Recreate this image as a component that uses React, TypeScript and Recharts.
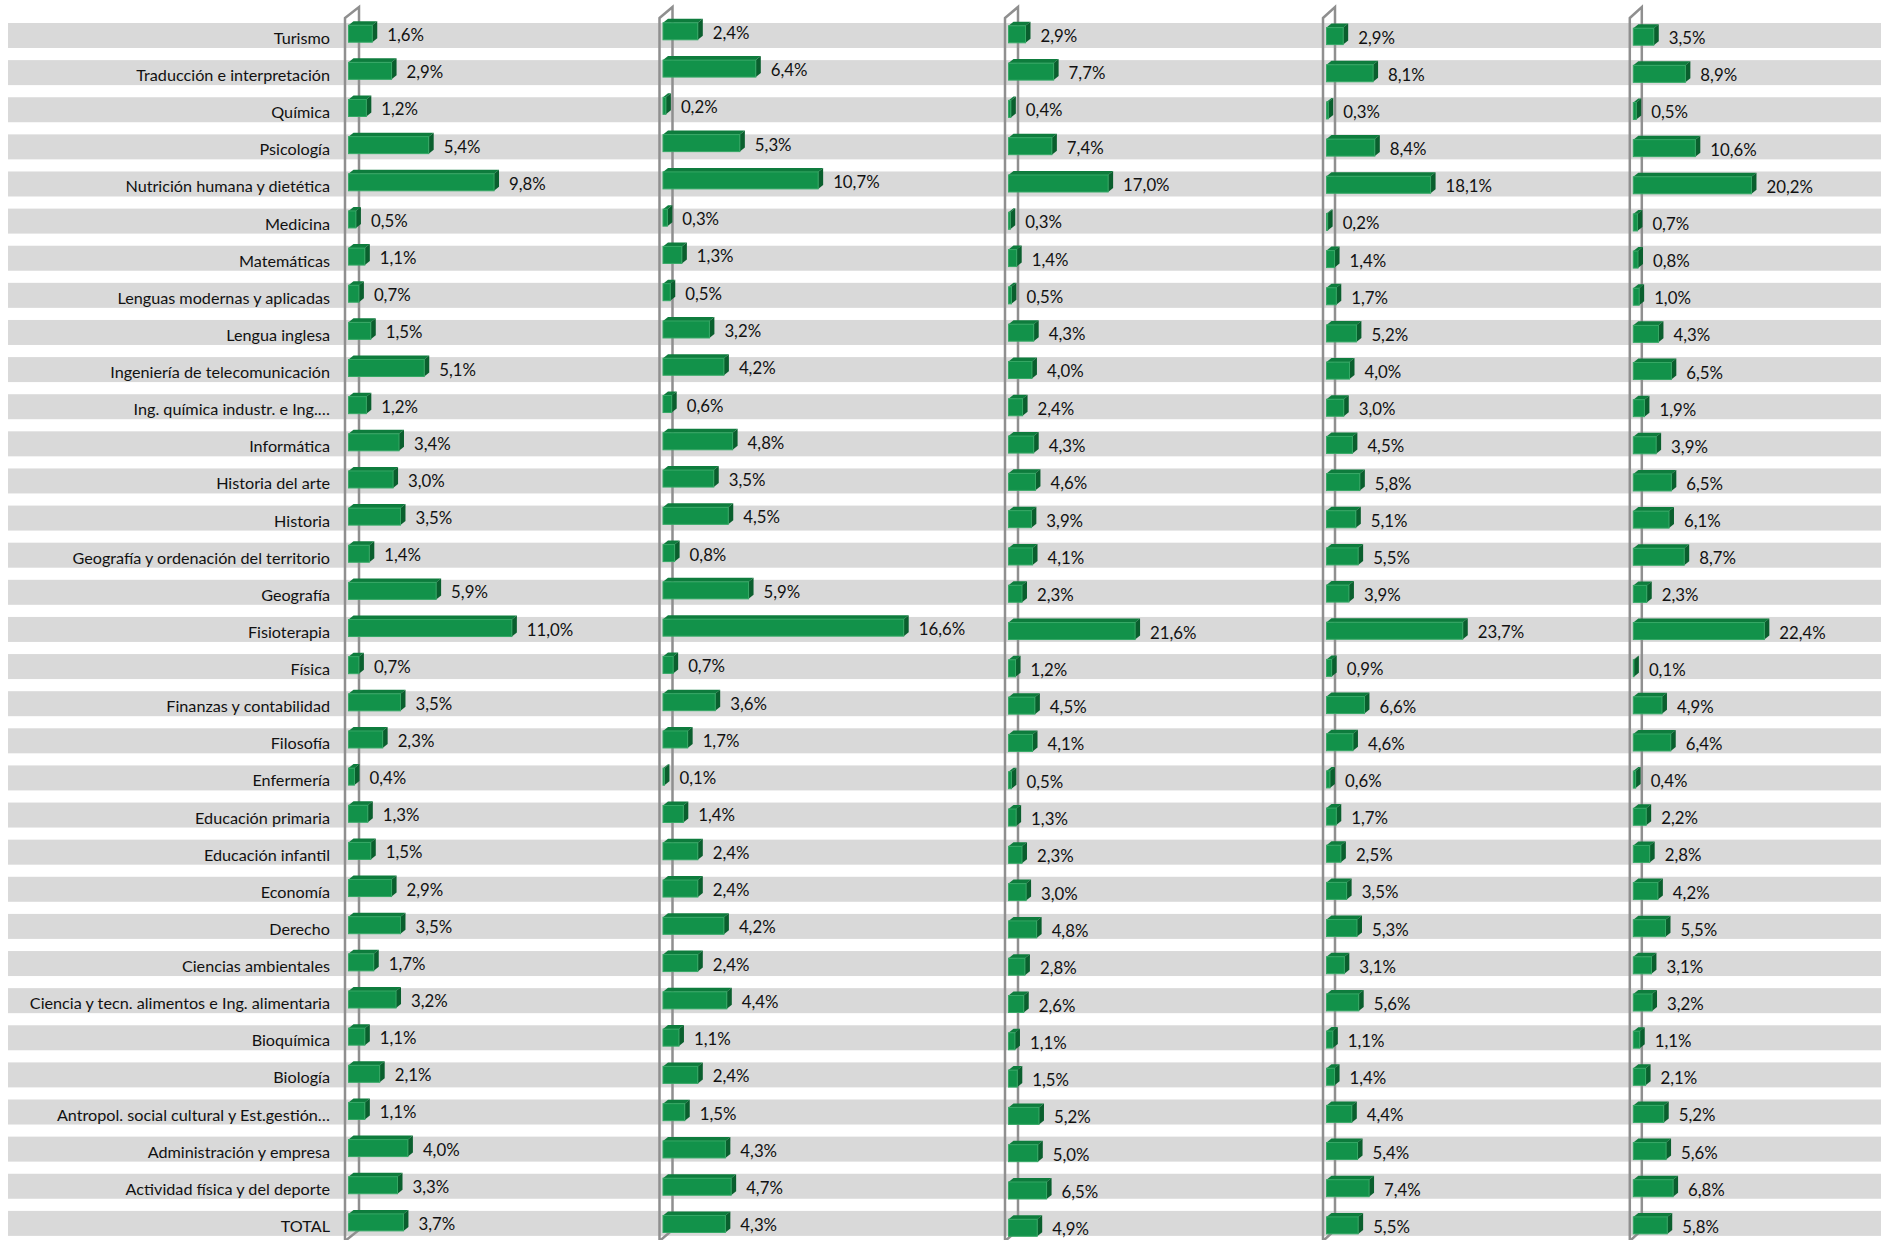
import React from "react";
import { BarChart, Bar, XAxis, YAxis, LabelList, ReferenceLine } from "recharts";

// categorías de arriba abajo
const categories = [
  "Turismo",
  "Traducción e interpretación",
  "Química",
  "Psicología",
  "Nutrición humana y dietética",
  "Medicina",
  "Matemáticas",
  "Lenguas modernas y aplicadas",
  "Lengua inglesa",
  "Ingeniería de telecomunicación",
  "Ing. química industr. e Ing.…",
  "Informática",
  "Historia del arte",
  "Historia",
  "Geografía y ordenación del territorio",
  "Geografía",
  "Fisioterapia",
  "Física",
  "Finanzas y contabilidad",
  "Filosofía",
  "Enfermería",
  "Educación primaria",
  "Educación infantil",
  "Economía",
  "Derecho",
  "Ciencias ambientales",
  "Ciencia y tecn. alimentos e Ing. alimentaria",
  "Bioquímica",
  "Biología",
  "Antropol. social cultural y Est.gestión…",
  "Administración y empresa",
  "Actividad física y del deporte",
  "TOTAL",
];

const serie1 = [1.6, 2.9, 1.2, 5.4, 9.8, 0.5, 1.1, 0.7, 1.5, 5.1, 1.2, 3.4, 3.0, 3.5, 1.4, 5.9, 11.0, 0.7, 3.5, 2.3, 0.4, 1.3, 1.5, 2.9, 3.5, 1.7, 3.2, 1.1, 2.1, 1.1, 4.0, 3.3, 3.7];
const serie2 = [2.4, 6.4, 0.2, 5.3, 10.7, 0.3, 1.3, 0.5, 3.2, 4.2, 0.6, 4.8, 3.5, 4.5, 0.8, 5.9, 16.6, 0.7, 3.6, 1.7, 0.1, 1.4, 2.4, 2.4, 4.2, 2.4, 4.4, 1.1, 2.4, 1.5, 4.3, 4.7, 4.3];
const serie3 = [2.9, 7.7, 0.4, 7.4, 17.0, 0.3, 1.4, 0.5, 4.3, 4.0, 2.4, 4.3, 4.6, 3.9, 4.1, 2.3, 21.6, 1.2, 4.5, 4.1, 0.5, 1.3, 2.3, 3.0, 4.8, 2.8, 2.6, 1.1, 1.5, 5.2, 5.0, 6.5, 4.9];
const serie4 = [2.9, 8.1, 0.3, 8.4, 18.1, 0.2, 1.4, 1.7, 5.2, 4.0, 3.0, 4.5, 5.8, 5.1, 5.5, 3.9, 23.7, 0.9, 6.6, 4.6, 0.6, 1.7, 2.5, 3.5, 5.3, 3.1, 5.6, 1.1, 1.4, 4.4, 5.4, 7.4, 5.5];
const serie5 = [3.5, 8.9, 0.5, 10.6, 20.2, 0.7, 0.8, 1.0, 4.3, 6.5, 1.9, 3.9, 6.5, 6.1, 8.7, 2.3, 22.4, 0.1, 4.9, 6.4, 0.4, 2.2, 2.8, 4.2, 5.5, 3.1, 3.2, 1.1, 2.1, 5.2, 5.6, 6.8, 5.8];

const rows = categories.map((name, i) => ({
  name,
  p1: serie1[i],
  p2: serie2[i],
  p3: serie3[i],
  p4: serie4[i],
  p5: serie5[i],
}));

// layout
const W = 1881;
const CH = 1242;
const TOP = 17;
const LEFT = 8;
const MARGIN = { top: TOP, right: 0, bottom: 0, left: LEFT };

// zero = x of value 0, scale = px per %, off = bar shift first/last row (3D perspective)
const panels = [
  { key: "p1", zero: 348.5, scale: 14.85, depth: 14, offTop: -3.8, offBot: -3 },
  { key: "p2", zero: 663, scale: 14.5, depth: 13, offTop: -6.2, offBot: -1.4 },
  { key: "p3", zero: 1008.5, scale: 5.86, depth: 13, offTop: -3.2, offBot: 2.4 },
  { key: "p4", zero: 1326.5, scale: 5.75, depth: 12, offTop: -1.4, offBot: 0 },
  { key: "p5", zero: 1633.3, scale: 5.85, depth: 12, offTop: -0.8, offBot: 0 },
];

const FONT = "Lato, 'Open Sans', sans-serif";
const GREEN = "#12924a";
const GREEN_TOP = "#0e7c3d";
const GREEN_SIDE = "#0a5f2e";
const WALL = "#8f8f8f";

const fmt = (v: number) => `${v.toFixed(1).replace(".", ",")}%`;

const rowOffset = (p: any, index: number) =>
  p.offTop + ((p.offBot - p.offTop) * index) / (categories.length - 1);

function makeBarShape(panel: any) {
  return (props: any) => {
    const { x, y, width, height, index } = props;
    const w = Math.max(width, 0);
    const t = y + rowOffset(panel, index);
    const dx = 5;
    const dy = 4;
    return (
      <g>
        <polygon
          points={`${x},${t + dy} ${x + dx},${t} ${x + w + dx},${t} ${x + w},${t + dy}`}
          fill={GREEN_TOP}
        />
        <polygon
          points={`${x + w},${t + dy} ${x + w + dx},${t} ${x + w + dx},${t + height - dy} ${x + w},${t + height}`}
          fill={GREEN_SIDE}
        />
        <rect x={x} y={t + dy} width={w} height={height - dy} fill={GREEN} stroke="#35a865" strokeWidth={1} />
      </g>
    );
  };
}

const box = (props: any) => {
  const vb = props.viewBox || {};
  return {
    x: props.x ?? vb.x,
    y: props.y ?? vb.y,
    width: props.width ?? vb.width,
    height: props.height ?? vb.height,
  };
};

function makeLabel(panel: any) {
  return (props: any) => {
    const { x, y, width, height } = box(props);
    const off = rowOffset(panel, props.index ?? 0);
    return (
      <text
        x={x + width + 15}
        y={y + height / 2 + off + 3}
        dominantBaseline="central"
        fontFamily={FONT}
        fontSize={16.8}
        fill="#111"
      >
        {fmt(Number(props.value))}
      </text>
    );
  };
}

function makeWall(panel: any) {
  return (props: any) => {
    const fx = props.x1 - 3.5;
    const bx = fx + panel.depth;
    return (
      <polygon
        points={`${fx},18 ${bx},7 ${bx},1230 ${fx},1241`}
        fill="none"
        stroke={WALL}
        strokeWidth={2.5}
      />
    );
  };
}

// nombre de la titulación, alineado a la derecha antes del primer panel
const CategoryLabel = (props: any) => {
  const { y, height } = box(props);
  return (
    <text
      x={330}
      y={y + height / 2 + 2}
      textAnchor="end"
      dominantBaseline="central"
      fontFamily={FONT}
      fontSize={16.2}
      fill="#111"
    >
      {props.value}
    </text>
  );
};

const Stripe = (props: any) => (
  <rect x={props.x} y={props.y + props.height / 2 - 12.5} width={props.width} height={25} fill="#d9d9d9" />
);

const layer: React.CSSProperties = { position: "absolute", left: 0, top: 0 };

function PanelChart({ panel }: { panel: any }) {
  const domain = [(LEFT - panel.zero) / panel.scale, (W - panel.zero) / panel.scale];
  return (
    <div style={layer}>
      <BarChart width={W} height={CH} data={rows} layout="vertical" margin={MARGIN}>
        <XAxis type="number" hide domain={domain} allowDataOverflow />
        <YAxis type="category" dataKey="name" hide />
        <ReferenceLine x={0} shape={makeWall(panel)} zIndex={-10} />
        <Bar dataKey={panel.key} barSize={21} shape={makeBarShape(panel)} isAnimationActive={false}>
          <LabelList dataKey={panel.key} content={makeLabel(panel)} />
        </Bar>
      </BarChart>
    </div>
  );
}

export default function App() {
  return (
    <div
      style={{
        position: "fixed",
        left: 0,
        top: 0,
        width: W,
        height: 1240,
        overflow: "hidden",
        background: "#fff",
        fontFamily: FONT,
      }}
    >
      {/* franjas grises y nombres de titulación */}
      <div style={layer}>
        <BarChart width={W} height={CH} data={rows} layout="vertical" margin={MARGIN}>
          <XAxis type="number" hide domain={[0, 1]} allowDataOverflow />
          <YAxis type="category" dataKey="name" hide />
          <Bar dataKey="p1" barSize={21} fill="none" background={Stripe} isAnimationActive={false}>
            <LabelList dataKey="name" content={CategoryLabel} />
          </Bar>
        </BarChart>
      </div>
      {panels.map((p) => (
        <PanelChart key={p.key} panel={p} />
      ))}
    </div>
  );
}
